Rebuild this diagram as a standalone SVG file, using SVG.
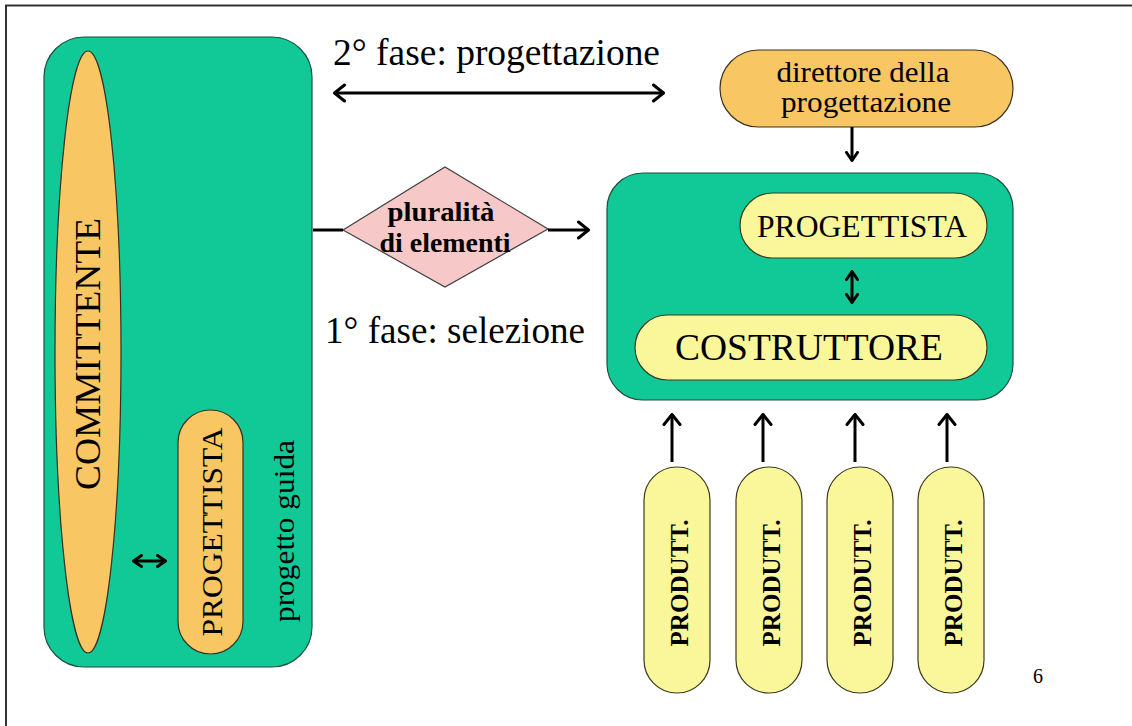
<svg xmlns="http://www.w3.org/2000/svg" width="1132" height="726" viewBox="0 0 1132 726">
  <style>
    .green { fill: #10C996; stroke: #1F4F40; stroke-width: 1.2; }
    .orange { fill: #F8C663; stroke: #3A3020; stroke-width: 1.2; }
    .yellow { fill: #FAF79B; stroke: #3A3A20; stroke-width: 1.2; }
    .pink { fill: #F6C8C8; stroke: #404040; stroke-width: 1.2; }
    .t { font-family: "Liberation Serif", "Times New Roman", serif; fill: #000; }
    .b { font-weight: bold; }
    .line { stroke: #000; stroke-width: 3; fill: none; }
  </style>
  <defs>
    <marker id="headL" viewBox="0 0 14 20" refX="12.5" refY="10" markerWidth="14" markerHeight="20" orient="auto-start-reverse" markerUnits="userSpaceOnUse">
      <path d="M2,2 L12,10 L2,18" fill="none" stroke="#000" stroke-width="3" stroke-linecap="round" stroke-linejoin="round"/>
    </marker>
    <marker id="headS" viewBox="0 0 12 14" refX="10.5" refY="7" markerWidth="12" markerHeight="14" orient="auto-start-reverse" markerUnits="userSpaceOnUse">
      <path d="M2,1.5 L10,7 L2,12.5" fill="none" stroke="#000" stroke-width="3" stroke-linecap="round" stroke-linejoin="round"/>
    </marker>
  </defs>

  <rect width="1132" height="726" fill="#FFFFFF"/>
  <!-- page frame: left and top rules -->
  <path d="M6,726 L6,5.5 L1132,5.5" fill="none" stroke="#333" stroke-width="2"/>

  <!-- client side: committente with guiding designer -->
  <g id="client-group">
    <rect class="green" x="44" y="37" width="268" height="630" rx="40" ry="40"/>
  </g>
  <g id="committente">
    <ellipse class="orange" cx="88" cy="352" rx="33" ry="301"/>
    <text class="t" font-size="36" text-anchor="middle" textLength="272" lengthAdjust="spacingAndGlyphs" transform="translate(100,354) rotate(-90)">COMMITTENTE</text>
  </g>
  <g id="progettista-guida">
    <rect class="orange" x="178" y="410" width="65" height="244" rx="32.5" ry="32.5"/>
    <text class="t" font-size="30" text-anchor="middle" textLength="209" lengthAdjust="spacingAndGlyphs" transform="translate(222,532) rotate(-90)">PROGETTISTA</text>
  </g>
  <g id="progetto-guida-label">
    <text class="t" font-size="29" text-anchor="middle" textLength="182" lengthAdjust="spacingAndGlyphs" transform="translate(294,531) rotate(-90)">progetto guida</text>
  </g>

  <!-- phase labels -->
  <g id="fase2-label">
    <text class="t" x="333" y="65" font-size="37" textLength="327" lengthAdjust="spacingAndGlyphs">2° fase: progettazione</text>
  </g>
  <g id="fase1-label">
    <text class="t" x="325" y="343" font-size="37" textLength="260" lengthAdjust="spacingAndGlyphs">1° fase: selezione</text>
  </g>

  <!-- selection diamond -->
  <g id="pluralita">
    <polygon class="pink" points="343,230 445,167 548,229 445,287"/>
    <text class="t b" x="441" y="221" font-size="27" text-anchor="middle" textLength="107" lengthAdjust="spacingAndGlyphs">pluralità</text>
    <text class="t b" x="445" y="252" font-size="27" text-anchor="middle" textLength="131" lengthAdjust="spacingAndGlyphs">di elementi</text>
  </g>

  <!-- design director -->
  <g id="direttore">
    <rect class="orange" x="720" y="50" width="293" height="77" rx="38.5" ry="38.5"/>
    <text class="t" x="863" y="82" font-size="30" text-anchor="middle" textLength="173" lengthAdjust="spacingAndGlyphs">direttore della</text>
    <text class="t" x="866" y="112" font-size="30" text-anchor="middle" textLength="170" lengthAdjust="spacingAndGlyphs">progettazione</text>
  </g>

  <!-- executing group: designer and builder -->
  <g id="execution-group">
    <rect class="green" x="607" y="173" width="406" height="227" rx="36" ry="36"/>
  </g>
  <g id="progettista-esecutivo">
    <rect class="yellow" x="740" y="193" width="247" height="65" rx="32.5" ry="32.5"/>
    <text class="t" x="862" y="237" font-size="31" text-anchor="middle" textLength="210" lengthAdjust="spacingAndGlyphs">PROGETTISTA</text>
  </g>
  <g id="costruttore">
    <rect class="yellow" x="635" y="315" width="352" height="65" rx="32.5" ry="32.5"/>
    <text class="t" x="809" y="360" font-size="38" text-anchor="middle" textLength="268" lengthAdjust="spacingAndGlyphs">COSTRUTTORE</text>
  </g>

  <!-- producers -->
  <g id="produttore-1">
    <rect class="yellow" x="644" y="467" width="66" height="226" rx="33" ry="33"/>
    <text class="t b" font-size="25" text-anchor="middle" textLength="127" lengthAdjust="spacingAndGlyphs" transform="translate(688,583) rotate(-90)">PRODUTT.</text>
  </g>
  <g id="produttore-2">
    <rect class="yellow" x="736" y="467" width="66" height="226" rx="33" ry="33"/>
    <text class="t b" font-size="25" text-anchor="middle" textLength="127" lengthAdjust="spacingAndGlyphs" transform="translate(780,583) rotate(-90)">PRODUTT.</text>
  </g>
  <g id="produttore-3">
    <rect class="yellow" x="827" y="467" width="66" height="226" rx="33" ry="33"/>
    <text class="t b" font-size="25" text-anchor="middle" textLength="127" lengthAdjust="spacingAndGlyphs" transform="translate(871,583) rotate(-90)">PRODUTT.</text>
  </g>
  <g id="produttore-4">
    <rect class="yellow" x="918" y="467" width="66" height="226" rx="33" ry="33"/>
    <text class="t b" font-size="25" text-anchor="middle" textLength="127" lengthAdjust="spacingAndGlyphs" transform="translate(962,583) rotate(-90)">PRODUTT.</text>
  </g>

  <!-- slide number -->
  <g id="page-number">
    <text class="t" x="1038" y="683" font-size="20" text-anchor="middle">6</text>
  </g>

  <!-- connectors -->
  <g id="connectors">
    <line class="line" x1="334" y1="93" x2="664" y2="93" marker-start="url(#headL)" marker-end="url(#headL)"/>
    <line class="line" x1="313" y1="230" x2="343" y2="230"/>
    <line class="line" x1="548" y1="230" x2="589" y2="230" marker-end="url(#headL)"/>
    <line class="line" x1="133" y1="561" x2="166" y2="561" marker-start="url(#headS)" marker-end="url(#headS)"/>
    <line class="line" x1="852" y1="127" x2="852" y2="161" marker-end="url(#headS)"/>
    <line class="line" x1="852" y1="271" x2="852" y2="303" marker-start="url(#headS)" marker-end="url(#headS)"/>
    <line class="line" x1="672" y1="462" x2="672" y2="414" marker-end="url(#headL)"/>
    <line class="line" x1="763" y1="462" x2="763" y2="414" marker-end="url(#headL)"/>
    <line class="line" x1="855" y1="462" x2="855" y2="414" marker-end="url(#headL)"/>
    <line class="line" x1="947" y1="462" x2="947" y2="414" marker-end="url(#headL)"/>
  </g>
</svg>
